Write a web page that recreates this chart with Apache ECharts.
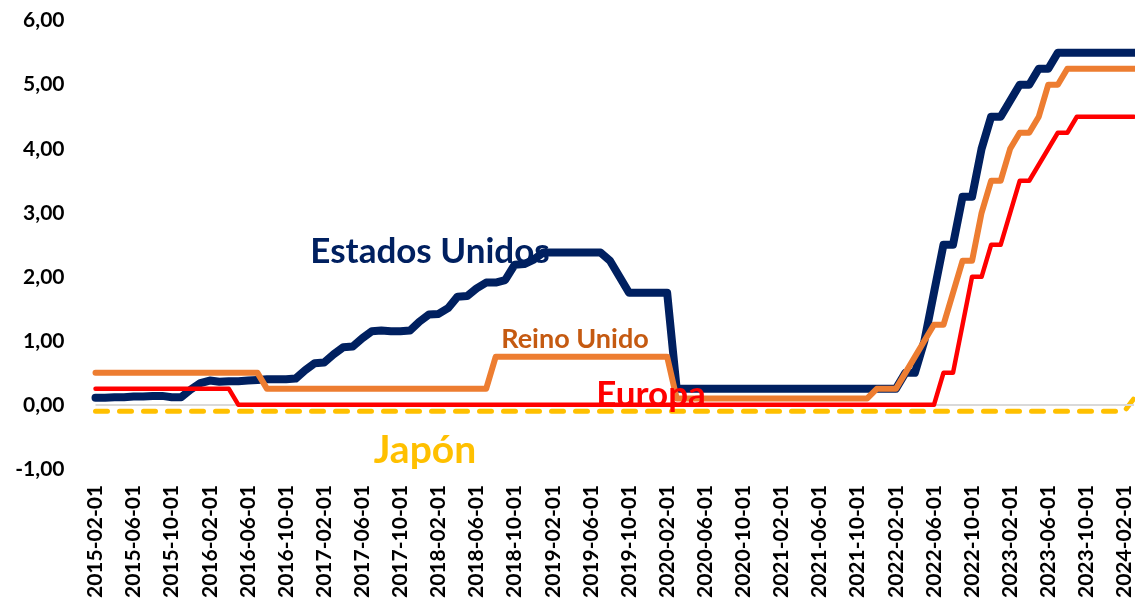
<!DOCTYPE html>
<html>
<head>
<meta charset="utf-8">
<title>Tipos de interés</title>
<script src="https://cdn.jsdelivr.net/npm/echarts@6/dist/echarts.min.js"></script>
<style>
  html, body { margin: 0; padding: 0; background: #fff; }
  #chart { width: 1135px; height: 601px; }
</style>
</head>
<body>
<div id="chart"></div>
<script>
// months: 2015-02 .. 2024-03
const startYear = 2015
const startMonth = 2
const monthCount = 110
const months = []
for (let i = 0; i < monthCount; i++) {
  const m = startMonth - 1 + i
  const y = startYear + Math.floor(m / 12)
  const mm = (m % 12) + 1
  months.push(y + '-' + String(mm).padStart(2, '0') + '-01')
}

const yTicks = [-1, 0, 1, 2, 3, 4, 5, 6]

// Estados Unidos
const usa = [
  0.11, 0.11, 0.12, 0.12, 0.13, 0.13, 0.14, 0.14, 0.12, 0.12, 0.24,
  0.34, 0.38, 0.36, 0.37, 0.37, 0.38, 0.39, 0.40, 0.40, 0.40, 0.41, 0.54,
  0.65, 0.66, 0.79, 0.90, 0.91, 1.04, 1.15, 1.16, 1.15, 1.15, 1.16, 1.30,
  1.41, 1.42, 1.51, 1.69, 1.70, 1.82, 1.91, 1.91, 1.95, 2.19, 2.20, 2.27,
  2.38, 2.38, 2.38, 2.38, 2.38, 2.38, 2.38, 2.25, 2.00, 1.75, 1.75, 1.75,
  1.75, 1.75, 0.25, 0.25, 0.25, 0.25, 0.25, 0.25, 0.25, 0.25, 0.25, 0.25,
  0.25, 0.25, 0.25, 0.25, 0.25, 0.25, 0.25, 0.25, 0.25, 0.25, 0.25, 0.25,
  0.25, 0.25, 0.50, 0.50, 1.00, 1.75, 2.50, 2.50, 3.25, 3.25, 4.00, 4.50,
  4.50, 4.75, 5.00, 5.00, 5.25, 5.25, 5.50, 5.50, 5.50, 5.50, 5.50, 5.50,
  5.50, 5.50, 5.50
]

// Reino Unido
const uk = [
  0.50, 0.50, 0.50, 0.50, 0.50, 0.50, 0.50, 0.50, 0.50, 0.50, 0.50,
  0.50, 0.50, 0.50, 0.50, 0.50, 0.50, 0.50, 0.25, 0.25, 0.25, 0.25, 0.25,
  0.25, 0.25, 0.25, 0.25, 0.25, 0.25, 0.25, 0.25, 0.25, 0.25, 0.25, 0.25,
  0.25, 0.25, 0.25, 0.25, 0.25, 0.25, 0.25, 0.75, 0.75, 0.75, 0.75, 0.75,
  0.75, 0.75, 0.75, 0.75, 0.75, 0.75, 0.75, 0.75, 0.75, 0.75, 0.75, 0.75,
  0.75, 0.75, 0.10, 0.10, 0.10, 0.10, 0.10, 0.10, 0.10, 0.10, 0.10, 0.10,
  0.10, 0.10, 0.10, 0.10, 0.10, 0.10, 0.10, 0.10, 0.10, 0.10, 0.10, 0.25,
  0.25, 0.25, 0.50, 0.75, 1.00, 1.25, 1.25, 1.75, 2.25, 2.25, 3.00, 3.50,
  3.50, 4.00, 4.25, 4.25, 4.50, 5.00, 5.00, 5.25, 5.25, 5.25, 5.25, 5.25,
  5.25, 5.25, 5.25
]

// Europa
const europe = [
  0.25, 0.25, 0.25, 0.25, 0.25, 0.25, 0.25, 0.25, 0.25, 0.25, 0.25,
  0.25, 0.25, 0.25, 0.25, 0, 0, 0, 0, 0, 0, 0, 0,
  0, 0, 0, 0, 0, 0, 0, 0, 0, 0, 0, 0,
  0, 0, 0, 0, 0, 0, 0, 0, 0, 0, 0, 0,
  0, 0, 0, 0, 0, 0, 0, 0, 0, 0, 0, 0,
  0, 0, 0, 0, 0, 0, 0, 0, 0, 0, 0, 0,
  0, 0, 0, 0, 0, 0, 0, 0, 0, 0, 0, 0,
  0, 0, 0, 0, 0, 0, 0.50, 0.50, 1.25, 2.00, 2.00, 2.50,
  2.50, 3.00, 3.50, 3.50, 3.75, 4.00, 4.25, 4.25, 4.50, 4.50, 4.50, 4.50,
  4.50, 4.50, 4.50
]

// Japón
const japan = [
  -0.1, -0.1, -0.1, -0.1, -0.1, -0.1, -0.1, -0.1, -0.1, -0.1, -0.1,
  -0.1, -0.1, -0.1, -0.1, -0.1, -0.1, -0.1, -0.1, -0.1, -0.1, -0.1, -0.1,
  -0.1, -0.1, -0.1, -0.1, -0.1, -0.1, -0.1, -0.1, -0.1, -0.1, -0.1, -0.1,
  -0.1, -0.1, -0.1, -0.1, -0.1, -0.1, -0.1, -0.1, -0.1, -0.1, -0.1, -0.1,
  -0.1, -0.1, -0.1, -0.1, -0.1, -0.1, -0.1, -0.1, -0.1, -0.1, -0.1, -0.1,
  -0.1, -0.1, -0.1, -0.1, -0.1, -0.1, -0.1, -0.1, -0.1, -0.1, -0.1, -0.1,
  -0.1, -0.1, -0.1, -0.1, -0.1, -0.1, -0.1, -0.1, -0.1, -0.1, -0.1, -0.1,
  -0.1, -0.1, -0.1, -0.1, -0.1, -0.1, -0.1, -0.1, -0.1, -0.1, -0.1, -0.1,
  -0.1, -0.1, -0.1, -0.1, -0.1, -0.1, -0.1, -0.1, -0.1, -0.1, -0.1, -0.1,
  -0.1, -0.1, 0.1
]

const font = 'Lato'

const chart = echarts.init(document.getElementById('chart'))
const option = {
  animation: false,
  backgroundColor: '#fff',
  grid: { left: 95.5, top: 20.7, width: 1041.6, height: 450 },
  xAxis: {
    type: 'category',
    data: months,
    boundaryGap: false,
    axisLine: { show: false },
    axisTick: { show: false },
    axisLabel: {
      interval: 3,
      rotate: 90,
      margin: 16,
      color: '#000',
      fontFamily: font,
      fontWeight: 'bold',
      fontSize: 21
    }
  },
  yAxis: {
    type: 'value',
    min: yTicks[0],
    max: yTicks[yTicks.length - 1],
    interval: 1,
    splitLine: { show: false },
    axisLine: { show: false },
    axisTick: { show: false },
    axisLabel: {
      margin: 31,
      color: '#000',
      fontFamily: font,
      fontWeight: 'bold',
      fontSize: 21,
      formatter: v => v.toFixed(2).replace('.', ',')
    }
  },
  series: [
    {
      name: 'Japón',
      type: 'line',
      data: japan,
      symbol: 'none',
      z: 2,
      lineStyle: { color: '#FFC000', width: 5, type: [12, 12], cap: 'round', join: 'round' },
      markLine: {
        silent: true,
        symbol: 'none',
        label: { show: false },
        lineStyle: { color: '#D9D9D9', width: 2, type: 'solid' },
        data: [{ yAxis: 0 }]
      }
    },
    {
      name: 'Estados Unidos',
      type: 'line',
      data: usa,
      symbol: 'none',
      z: 3,
      lineStyle: { color: '#002060', width: 8, cap: 'round', join: 'round' }
    },
    {
      name: 'Reino Unido',
      type: 'line',
      data: uk,
      symbol: 'none',
      z: 4,
      lineStyle: { color: '#ED7D31', width: 6, cap: 'round', join: 'round' }
    },
    {
      name: 'Europa',
      type: 'line',
      data: europe,
      symbol: 'none',
      z: 5,
      lineStyle: { color: '#FF0000', width: 4.5, cap: 'round', join: 'round' }
    }
  ],
  graphic: [
    { type: 'text', x: 430, y: 252, z: 100, style: { text: 'Estados Unidos', fill: '#002060', font: 'bold 35px Lato', align: 'center', verticalAlign: 'middle' } },
    { type: 'text', x: 575, y: 339, z: 100, style: { text: 'Reino Unido', fill: '#C55A11', font: 'bold 27px Lato', align: 'center', verticalAlign: 'middle' } },
    { type: 'text', x: 651, y: 395, z: 100, style: { text: 'Europa', fill: '#FF0000', font: 'bold 35px Lato', align: 'center', verticalAlign: 'middle' } },
    { type: 'text', x: 425, y: 450, z: 100, style: { text: 'Japón', fill: '#FFC000', font: 'bold 39px Lato', align: 'center', verticalAlign: 'middle' } }
  ]
}
chart.setOption(option)
</script>
</body>
</html>
